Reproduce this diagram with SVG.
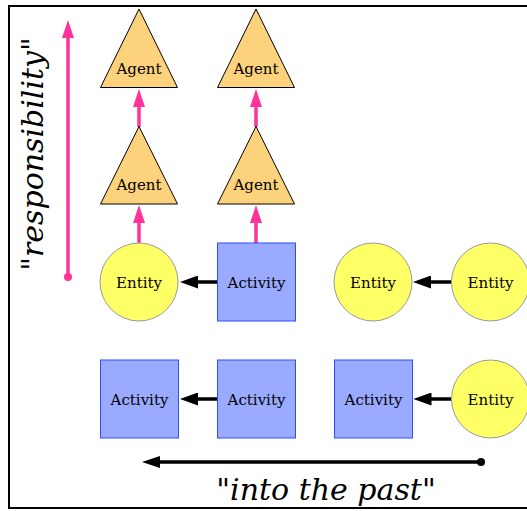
<svg xmlns="http://www.w3.org/2000/svg" width="527" height="511" viewBox="0 0 527 511">
<defs>
<style>
.ent{fill:#ffff66;stroke:#999999;stroke-width:1}
.act{fill:#99aaff;stroke:#2b4dff;stroke-width:1}
.agt{fill:#fdd27c;stroke:#000000;stroke-width:1}
.lbl{font-family:"DejaVu Serif","Liberation Serif",serif;font-size:15px;fill:#000;text-anchor:middle}
.big{font-family:"DejaVu Serif","Liberation Serif",serif;font-size:30px;font-style:italic;fill:#000;text-anchor:middle}
.blk{stroke:#000;stroke-width:3.5;fill:none}
.pnk{stroke:#ff3399;stroke-width:3.5;fill:none}
</style>
<marker id="ah" markerUnits="userSpaceOnUse" viewBox="0 0 18 13" markerWidth="18" markerHeight="13" refX="1" refY="6.5" orient="auto"><path d="M0,0 L18,6.5 L0,13 z" fill="#000"/></marker>
<marker id="ah2" markerUnits="userSpaceOnUse" viewBox="0 0 18 12" markerWidth="18" markerHeight="12" refX="1" refY="6" orient="auto"><path d="M0,0 L18,6 L0,12 z" fill="#000"/></marker>
<marker id="ph" markerUnits="userSpaceOnUse" viewBox="0 0 18 12" markerWidth="18" markerHeight="12" refX="1" refY="6" orient="auto"><path d="M0,0 L18,6 L0,12 z" fill="#ff3399"/></marker>
<marker id="pd" markerUnits="userSpaceOnUse" viewBox="0 0 8 8" markerWidth="8" markerHeight="8" refX="4" refY="4"><circle cx="4" cy="4" r="4" fill="#ff3399"/></marker>
<marker id="bd" markerUnits="userSpaceOnUse" viewBox="0 0 8 8" markerWidth="8" markerHeight="8" refX="4" refY="4"><circle cx="4" cy="4" r="4" fill="#000"/></marker>
</defs>
<rect x="0" y="0" width="527" height="511" fill="#fff"/>
<rect x="9" y="6" width="530" height="502" fill="none" stroke="#000" stroke-width="2"/>

<g id="connectors">
<line class="pnk" x1="68" y1="277" x2="68" y2="37" marker-start="url(#pd)" marker-end="url(#ph)"/>
<line class="pnk" x1="139" y1="127" x2="139" y2="106" marker-end="url(#ph)"/>
<line class="pnk" x1="256" y1="127" x2="256" y2="106" marker-end="url(#ph)"/>
<line class="pnk" x1="139" y1="243" x2="139" y2="222" marker-end="url(#ph)"/>
<line class="pnk" x1="256" y1="243" x2="256" y2="222" marker-end="url(#ph)"/>
<line class="blk" x1="217.5" y1="282" x2="197" y2="282" marker-end="url(#ah)"/>
<line class="blk" x1="451.5" y1="282" x2="430" y2="282" marker-end="url(#ah)"/>
<line class="blk" x1="217.5" y1="399" x2="197" y2="399" marker-end="url(#ah)"/>
<line class="blk" x1="451.5" y1="399" x2="430.5" y2="399" marker-end="url(#ah)"/>
<line class="blk" x1="481" y1="462" x2="159" y2="462" marker-start="url(#bd)" marker-end="url(#ah2)"/>
</g>

<g id="agent1"><polygon class="agt" points="139,9 100.5,87.5 177.5,87.5"/><text class="lbl" x="139" y="74">Agent</text></g>
<g id="agent2"><polygon class="agt" points="256,9 217.5,87.5 294.5,87.5"/><text class="lbl" x="256" y="74">Agent</text></g>
<g id="agent3"><polygon class="agt" points="139,126.5 100.5,204 177.5,204"/><text class="lbl" x="139" y="190">Agent</text></g>
<g id="agent4"><polygon class="agt" points="256,126.5 217.5,204 294.5,204"/><text class="lbl" x="256" y="190">Agent</text></g>

<g id="entity1"><circle class="ent" cx="139" cy="282" r="39"/><text class="lbl" x="139" y="288">Entity</text></g>
<g id="activity1"><rect class="act" x="217.5" y="243" width="78" height="78"/><text class="lbl" x="256.5" y="288">Activity</text></g>
<g id="entity2"><circle class="ent" cx="373" cy="282" r="39"/><text class="lbl" x="373" y="288">Entity</text></g>
<g id="entity3"><circle class="ent" cx="490.5" cy="282" r="39"/><text class="lbl" x="490.5" y="288">Entity</text></g>

<g id="activity2"><rect class="act" x="100.5" y="360" width="78" height="78"/><text class="lbl" x="139.5" y="405">Activity</text></g>
<g id="activity3"><rect class="act" x="217.5" y="360" width="78" height="78"/><text class="lbl" x="256.5" y="405">Activity</text></g>
<g id="activity4"><rect class="act" x="334.5" y="360" width="78" height="78"/><text class="lbl" x="373.5" y="405">Activity</text></g>
<g id="entity4"><circle class="ent" cx="490.5" cy="399" r="39"/><text class="lbl" x="490.5" y="405">Entity</text></g>

<text class="big" transform="translate(43,154) rotate(-90)" x="0" y="0">"responsibility"</text>
<text class="big" x="326" y="500">"into the past"</text>
</svg>
